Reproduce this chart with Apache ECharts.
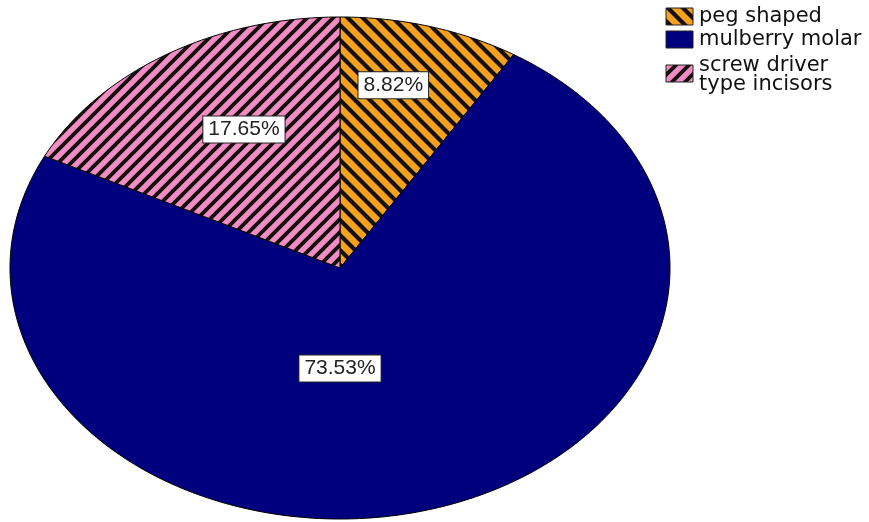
<!DOCTYPE html>
<html>
<head>
<meta charset="utf-8">
<script src="https://cdn.jsdelivr.net/npm/echarts@6/dist/echarts.min.js"></script>
<style>
  html, body { margin: 0; padding: 0; background: #ffffff; }
  #chart { width: 869px; height: 522px; }
</style>
</head>
<body>
<div id="chart"></div>
<script>
// Slice data (percent of cases), in drawing order clockwise from 12 o'clock
const categories = ['peg shaped', 'mulberry molar', 'screw driver\ntype incisors'];
const percents = [8.82, 73.53, 17.65];
const labelTexts = ['8.82%', '73.53%', '17.65%'];

// Elliptical pie geometry
const CX = 340, CY = 268, RX = 330, RY = 251;
// Label anchors: [angle in degrees clockwise from top, fraction of radius]
const labelPlacement = [[12.5, 0.746], [180, 0.40], [332.2, 0.624]];

// Diagonal hatch fill: dir '\\' runs top-left to bottom-right, '/' the other way.
// Lines are drawn well past the tile edges so the stripes join seamlessly.
function hatch(bg, dir, period, width) {
  const p = period;
  const c = document.createElement('canvas');
  c.width = p; c.height = p;
  const g = c.getContext('2d');
  g.fillStyle = bg;
  g.fillRect(0, 0, p, p);
  g.strokeStyle = '#151010';
  g.lineWidth = width;
  g.beginPath();
  for (let k = -2; k <= 2; k++) {
    if (dir === '\\') { g.moveTo(k * p - p, -p); g.lineTo(k * p + 2 * p, 2 * p); }
    else { g.moveTo(k * p - p, 2 * p); g.lineTo(k * p + 2 * p, -p); }
  }
  g.stroke();
  return { image: c, repeat: 'repeat' };
}

const fills = [hatch('#f5a11e', '\\', 15, 4.2), '#00007f', hatch('#f28cc2', '/', 13, 3.8)];
const total = percents.reduce((a, b) => a + b, 0);

function renderSlice(params, api) {
  const i = params.dataIndex;
  let start = 0;
  for (let k = 0; k < i; k++) start += percents[k];
  const v = api.value(0);
  const a0 = start / total * Math.PI * 2;
  const a1 = (start + v) / total * Math.PI * 2;
  const n = Math.max(2, Math.ceil((a1 - a0) / (Math.PI / 180)));
  const pts = [[CX, CY]];
  for (let j = 0; j <= n; j++) {
    const a = a0 + (a1 - a0) * j / n;
    pts.push([CX + RX * Math.sin(a), CY - RY * Math.cos(a)]);
  }
  const lp = labelPlacement[i];
  const la = lp[0] * Math.PI / 180;
  return {
    type: 'group',
    children: [
      {
        type: 'polygon',
        shape: { points: pts },
        style: { fill: fills[i], stroke: '#000', lineWidth: 1 }
      },
      {
        type: 'text',
        z2: 20,
        x: CX + RX * lp[1] * Math.sin(la),
        y: CY - RY * lp[1] * Math.cos(la),
        style: {
          text: labelTexts[i],
          font: '21px "Liberation Sans", Arial, sans-serif',
          fill: '#222',
          align: 'center',
          verticalAlign: 'middle',
          backgroundColor: '#ffffff',
          borderColor: '#222',
          borderWidth: 1,
          padding: [3, 5, 2, 5]
        }
      }
    ]
  };
}

// Legend rows: swatch top y and text centre y
const legendRows = [
  { swatchY: 8, textY: 17 },
  { swatchY: 31, textY: 40 },
  { swatchY: 65, textY: 75 }
];

const legendGraphics = [];
categories.forEach((name, i) => {
  legendGraphics.push({
    type: 'rect',
    shape: { x: 666, y: legendRows[i].swatchY, width: 27, height: 17 },
    style: { fill: fills[i], stroke: '#222', lineWidth: 1 }
  });
  legendGraphics.push({
    type: 'text',
    x: 699,
    y: legendRows[i].textY,
    style: {
      text: name,
      font: '21px "DejaVu Sans", sans-serif',
      fill: '#111',
      verticalAlign: 'middle',
      lineHeight: 19
    }
  });
});

const chart = echarts.init(document.getElementById('chart'), null, { renderer: 'canvas' });
chart.setOption({
  animation: false,
  backgroundColor: '#ffffff',
  graphic: legendGraphics,
  series: [{
    type: 'custom',
    coordinateSystem: 'none',
    renderItem: renderSlice,
    data: percents.map((p, i) => ({ name: categories[i], value: [p] }))
  }]
});
</script>
</body>
</html>
